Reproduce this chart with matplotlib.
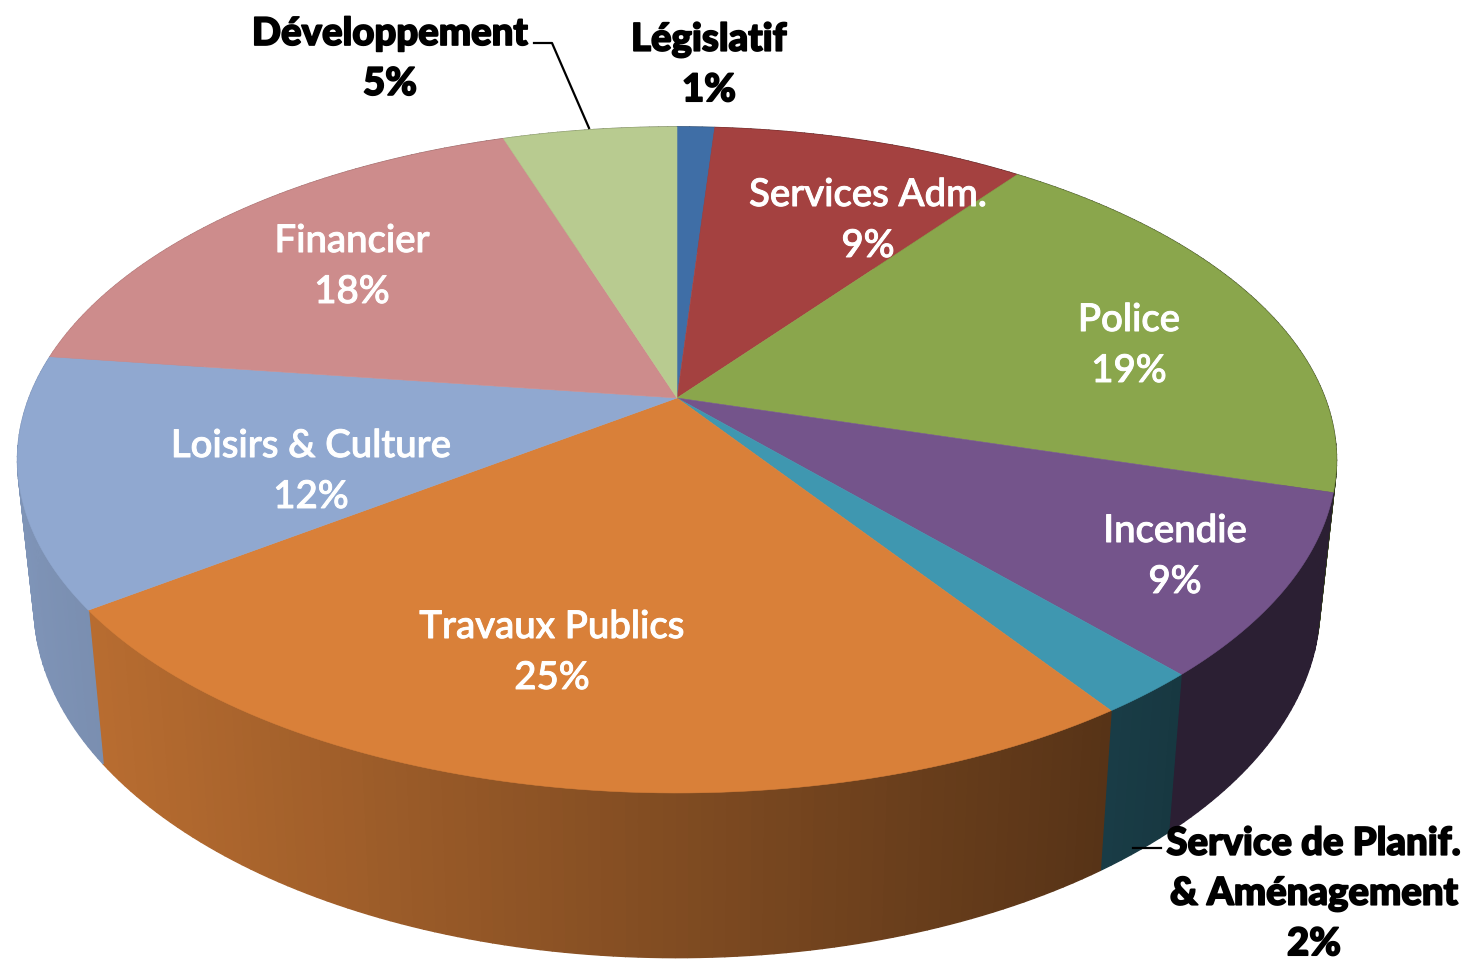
import numpy as np
import matplotlib
matplotlib.use("Agg")
import matplotlib.pyplot as plt
import matplotlib.patheffects as pe
from matplotlib.colors import to_rgb

names = ["Législatif", "Services Adm.", "Police", "Incendie",
         "Service de Planif.\n& Aménagement", "Travaux Publics",
         "Loisirs & Culture", "Financier", "Développement"]
values = [1.1, 9.2, 19.2, 8.8, 2.1, 24.6, 12.1, 17.8, 5.1]
colors = ["#3f6ea6", "#a44140", "#8aa64c", "#74548b", "#3f97b0",
          "#d98039", "#90a8d0", "#cd8c8c", "#b8cb90"]

# label centres in pixels, and the text colour
label_xy = [(709, 65), (868, 221), (1129, 346), (1175, 557),
            (1314, 894), (552, 653), (311, 472), (352, 267), (390, 59)]
label_dark = [True, False, False, False, True, False, False, False, True]

# perspective of the pie, fitted on the picture
cx, cy = 677, 398
half_w, half_h = 648, 321.5
persp = 0.186


def top_rim(t):
    u, v = np.sin(t), np.cos(t)
    w = 1 + persp * v
    return cx + half_w * u / w, cy - half_h * v / w


def bottom_rim(t):
    x, y = top_rim(t)
    return cx + (x - cx) * 0.975, cy + 141 + (y - cy) * 1.06


def shade(x):
    return np.clip(0.86 - (x - 60) / 1050 * 0.46, 0.37, 0.88)


fig = plt.figure(figsize=(14.69, 9.64), dpi=100)
ax = fig.add_axes([0, 0, 1, 1])
ax.set_xlim(0, 1469)
ax.set_ylim(964, 0)
ax.axis("off")

edges = np.radians(np.cumsum([0] + values) * 3.6)

# side walls first, the tops cover whatever is behind
for i in range(len(values)):
    base = np.array(to_rgb(colors[i]))
    ts = np.linspace(edges[i], edges[i + 1], max(4, int(values[i] * 4)))
    for a, b in zip(ts[:-1], ts[1:]):
        xa, ya = top_rim(a)
        xb, yb = top_rim(b)
        xc, yc = bottom_rim(b)
        xd, yd = bottom_rim(a)
        col = base * shade((xa + xb) / 2)
        ax.fill([xa, xb, xc, xd], [ya, yb, yc, yd], color=col, lw=1.0, zorder=1)

for i in range(len(values)):
    ts = np.linspace(edges[i], edges[i + 1], 80)
    x, y = top_rim(ts)
    ax.fill(np.r_[cx, x], np.r_[cy, y], color=colors[i], lw=0.4, zorder=2)

# leader lines
ax.plot([534, 552, 589], [43, 43, 128], color="black", lw=1.6, zorder=3)
ax.plot([1133, 1161], [848, 848], color="black", lw=1.6, zorder=3)

for name, val, (lx, ly), dark in zip(names, values, label_xy, label_dark):
    col = "black" if dark else "white"
    ax.text(lx, ly, f"{name}\n{round(val)}%", ha="center", va="center",
            family="Lato", fontsize=27.6, linespacing=1.57,
            fontweight="black" if dark else "medium", color=col, zorder=4,
            path_effects=[pe.withStroke(linewidth=1.2 if dark else 0.7, foreground=col)])

fig.savefig("out.png", dpi=100)
